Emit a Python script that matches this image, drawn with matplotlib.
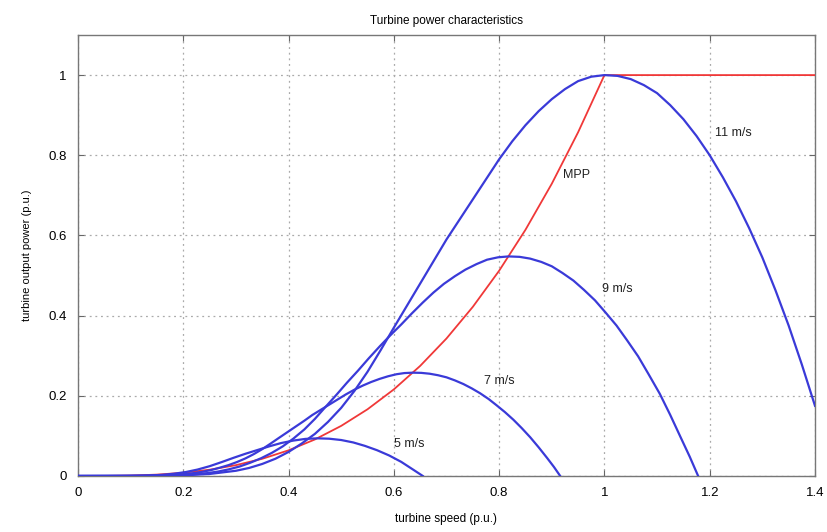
import matplotlib
matplotlib.use("Agg")
import matplotlib.pyplot as plt

# one list pair per curve
speed_5_x = [0, 0.091, 0.114, 0.136, 0.159, 0.182, 0.205, 0.227, 0.250, 0.273, 0.295, 0.318, 0.341,
             0.364, 0.386, 0.409, 0.432, 0.455, 0.477, 0.500, 0.523, 0.545, 0.568, 0.591, 0.614,
             0.636, 0.655]
speed_5_y = [0, 0.0001, 0.0005, 0.0012, 0.0028, 0.0056, 0.0099, 0.016, 0.0244, 0.0347, 0.0451,
             0.0554, 0.0648, 0.0742, 0.0822, 0.0883, 0.0925, 0.0939, 0.0930, 0.0897, 0.0836,
             0.0751, 0.0643, 0.0512, 0.0352, 0.0164, 0]

speed_7_x = [0, 0.127, 0.159, 0.191, 0.207, 0.223, 0.239, 0.255, 0.270, 0.286, 0.302, 0.318,
             0.334, 0.350, 0.366, 0.382, 0.398, 0.414, 0.430, 0.445, 0.461, 0.477, 0.493, 0.509,
             0.525, 0.541, 0.557, 0.573, 0.589, 0.605, 0.620, 0.636, 0.652, 0.668, 0.684, 0.700,
             0.716, 0.732, 0.748, 0.764, 0.780, 0.795, 0.811, 0.827, 0.843, 0.859, 0.875, 0.891,
             0.904, 0.916]
speed_7_y = [0, 0.0004, 0.0013, 0.0034, 0.0052, 0.0077, 0.0111, 0.0155, 0.0209, 0.0271, 0.0348,
             0.0438, 0.0546, 0.0670, 0.0809, 0.0953, 0.1095, 0.1237, 0.1379, 0.1520, 0.1649,
             0.1778, 0.1907, 0.2036, 0.2152, 0.2255, 0.2345, 0.2422, 0.2487, 0.2538, 0.2567,
             0.2577, 0.2572, 0.2551, 0.2513, 0.2461, 0.2384, 0.2294, 0.2185, 0.2062, 0.1920,
             0.1765, 0.1593, 0.1404, 0.1193, 0.0966, 0.0716, 0.0451, 0.0227, 0]

speed_9_x = [0, 0.082, 0.123, 0.164, 0.205, 0.245, 0.266, 0.286, 0.307, 0.327, 0.348, 0.368,
             0.389, 0.409, 0.430, 0.450, 0.470, 0.491, 0.511, 0.532, 0.552, 0.573, 0.593, 0.614,
             0.634, 0.655, 0.675, 0.695, 0.716, 0.736, 0.757, 0.777, 0.798, 0.818, 0.839, 0.859,
             0.880, 0.900, 0.920, 0.941, 0.961, 0.982, 1.002, 1.023, 1.043, 1.064, 1.084, 1.105,
             1.125, 1.145, 1.162, 1.178]
speed_9_y = [0, 0.0001, 0.0003, 0.0008, 0.0027, 0.0071, 0.0110, 0.0164, 0.0236, 0.0329, 0.0444,
             0.0575, 0.0739, 0.0931, 0.1161, 0.1424, 0.1720, 0.2026, 0.2328, 0.2629, 0.2930,
             0.3231, 0.3505, 0.3779, 0.4053, 0.4327, 0.4573, 0.4792, 0.4984, 0.5148, 0.5285,
             0.5395, 0.5455, 0.5477, 0.5466, 0.5422, 0.5340, 0.5231, 0.5066, 0.4875, 0.4644,
             0.4382, 0.4080, 0.3752, 0.3385, 0.2985, 0.2536, 0.2054, 0.1523, 0.0958, 0.0482, 0]

speed_11_x = [0, 0.1, 0.15, 0.2, 0.25, 0.3, 0.325, 0.35, 0.375, 0.4, 0.425, 0.45, 0.475, 0.5,
              0.525, 0.55, 0.575, 0.6, 0.625, 0.65, 0.675, 0.7, 0.725, 0.75, 0.775, 0.8, 0.825,
              0.85, 0.875, 0.9, 0.925, 0.95, 0.975, 1.0, 1.025, 1.05, 1.075, 1.1, 1.125, 1.15,
              1.175, 1.2, 1.225, 1.25, 1.275, 1.3, 1.325, 1.35, 1.375, 1.4]
speed_11_y = [0, 0.0001, 0.0005, 0.0015, 0.005, 0.013, 0.020, 0.030, 0.043, 0.060, 0.081, 0.105,
              0.135, 0.170, 0.212, 0.260, 0.314, 0.370, 0.425, 0.480, 0.535, 0.590, 0.640, 0.690,
              0.740, 0.790, 0.835, 0.875, 0.910, 0.940, 0.965, 0.985, 0.996, 1.000, 0.998, 0.990,
              0.975, 0.955, 0.925, 0.890, 0.848, 0.800, 0.745, 0.685, 0.618, 0.545, 0.463, 0.375,
              0.278, 0.175]

mpp_x = [0, 0.05, 0.1, 0.15, 0.2, 0.25, 0.3, 0.35, 0.4, 0.45, 0.5, 0.55, 0.6, 0.65, 0.7, 0.75, 0.8,
         0.85, 0.9, 0.95, 1.0, 1.4]
mpp_y = [0, 0.0001, 0.001, 0.0034, 0.008, 0.0156, 0.027, 0.0429, 0.064, 0.0911, 0.125, 0.1664,
         0.216, 0.2746, 0.343, 0.4219, 0.512, 0.6141, 0.729, 0.8574, 1.0, 1.0]

curve_labels = ["5 m/s", "7 m/s", "9 m/s", "11 m/s", "MPP"]
label_x = [0.629, 0.80, 1.024, 1.245, 0.947]
label_y = [0.08, 0.238, 0.467, 0.855, 0.75]

x_ticks = [0, 0.2, 0.4, 0.6, 0.8, 1.0, 1.2, 1.4]
x_tick_labels = ["0", "0.2", "0.4", "0.6", "0.8", "1", "1.2", "1.4"]
y_ticks = [0, 0.2, 0.4, 0.6, 0.8, 1.0]
y_tick_labels = ["0", "0.2", "0.4", "0.6", "0.8", "1"]

plt.rcParams['font.family'] = ['Liberation Sans', 'DejaVu Sans']

fig = plt.figure(figsize=(8.28, 5.32), dpi=100)
ax = fig.add_axes([0.0942, 0.1053, 0.8901, 0.8289])

blue = "#3a3ad8"
red = "#f03838"
ax.plot(mpp_x, mpp_y, color=red, lw=1.3, zorder=3)
for xs, ys in [(speed_5_x, speed_5_y), (speed_7_x, speed_7_y),
               (speed_9_x, speed_9_y), (speed_11_x, speed_11_y)]:
    ax.plot(xs, ys, color=blue, lw=1.6, zorder=4)

for txt, tx, ty in zip(curve_labels, label_x, label_y):
    ax.text(tx, ty, txt, ha="center", va="center", fontsize=9, color="#222222")

ax.set_xlim(0, 1.4)
ax.set_ylim(0, 1.1)
ax.set_xticks(x_ticks)
ax.set_xticklabels(x_tick_labels)
ax.set_yticks(y_ticks)
ax.set_yticklabels(y_tick_labels)
ax.tick_params(direction="in", top=True, right=True, length=4, labelsize=9.5, pad=8,
               color="#666666")
ax.grid(True, color="#aaaaaa", linestyle=(0, (1.5, 3)), linewidth=0.9)
for side in ax.spines.values():
    side.set_color("#777777")
    side.set_linewidth(1.0)

ax.set_title("Turbine power characteristics", fontsize=8.5, pad=8)
ax.set_xlabel("turbine speed (p.u.)", fontsize=8.5, labelpad=10)
ax.set_ylabel("turbine output power (p.u.)", fontsize=8, labelpad=12)

fig.savefig("out.png", dpi=100)
